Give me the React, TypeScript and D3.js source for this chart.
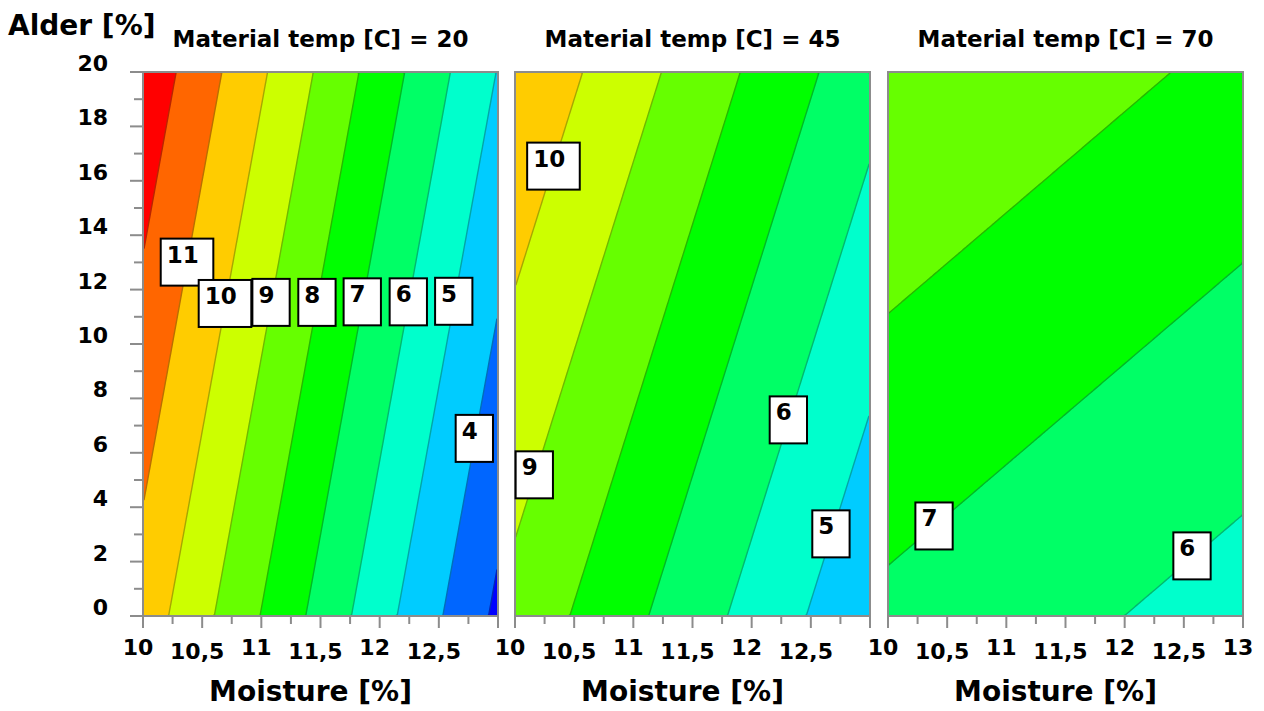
import React from "react";
import * as d3 from "d3";

const width = 1264;
const height = 711;

// one panel per material temperature
const temps = [20, 45, 70];
// planar response surface per panel
const intercepts = [36.45, 23.71, 10.81];
const moistureSlopes = [-2.589, -1.5015, -0.401];
const alderSlopes = [0.1083, 0.1082, 0.108];

const levels = [3, 4, 5, 6, 7, 8, 9, 10, 11, 12];
const bandColors = [
  "#0000ff", "#0066ff", "#00ccff", "#00ffcc", "#00ff66", "#00ff00",
  "#66ff00", "#ccff00", "#ffcc00", "#ff6600", "#ff0000",
];

const moistureTicks = [10, 10.5, 11, 11.5, 12, 12.5, 13];
const moistureMinor = [10.25, 10.75, 11.25, 11.75, 12.25, 12.75];
const alderTicks = [0, 2, 4, 6, 8, 10, 12, 14, 16, 18, 20];
const alderMinor = [1, 3, 5, 7, 9, 11, 13, 15, 17, 19];

// contour labels (box centres)
const labelPanel = [0, 0, 0, 0, 0, 0, 0, 0, 1, 1, 1, 1, 2, 2];
const labelText = ["11", "10", "9", "8", "7", "6", "5", "4", "10", "9", "6", "5", "7", "6"];
const labelMoisture = [10.372, 10.693, 11.082, 11.47, 11.853, 12.242, 12.626, 12.8, 10.325, 10.163, 12.31, 12.67, 10.389, 12.569];
const labelAlder = [13.01, 11.49, 11.53, 11.53, 11.55, 11.55, 11.57, 6.53, 16.54, 5.19, 7.21, 3.02, 3.31, 2.21];

const panelLeft = [143, 515, 888];
const panelW = 355;
const top = 72;
const plotH = 544;
const axisGray = "#8c8c8c";
const font = "'DejaVu Sans', Verdana, sans-serif";

const fmt = (v) => String(v).replace(".", ",");

function Panel({ p }) {
  const x = d3.scaleLinear().domain([10, 13]).range([panelLeft[p], panelLeft[p] + panelW]);
  const y = d3.scaleLinear().domain([0, 20]).range([top + plotH, top]);

  // grid for d3.contours
  const nx = 150;
  const ny = 200;
  const gx = d3.scaleLinear().domain([0, nx]).range([10, 13]);
  const gy = d3.scaleLinear().domain([0, ny]).range([20, 0]);
  const values = new Array(nx * ny);
  for (let j = 0; j < ny; j++) {
    for (let i = 0; i < nx; i++) {
      values[j * nx + i] =
        intercepts[p] + moistureSlopes[p] * gx(i + 0.5) + alderSlopes[p] * gy(j + 0.5);
    }
  }
  const contours = d3.contours().size([nx, ny]).thresholds(levels)(values);
  const proj = d3.geoTransform({
    point: function (px, py) {
      this.stream.point(x(gx(px)), y(gy(py)));
    },
  });
  const path = d3.geoPath(proj);

  const lineColor = (k) =>
    d3.color(d3.interpolateRgb(bandColors[k], bandColors[k + 1])(0.5)).darker(0.9).formatHex();

  const ticks = p === 2 ? moistureTicks : moistureTicks.slice(0, -1);
  const cx = panelLeft[p] + panelW / 2;

  return (
    <g>
      <text x={cx} y={47} textAnchor="middle" fontFamily={font} fontWeight="bold" fontSize={23}>
        Material temp [C] = {temps[p]}
      </text>
      <rect x={x(10)} y={y(20)} width={panelW} height={plotH} fill={bandColors[0]} />
      {contours.map((c, k) => (
        <path key={"f" + k} d={path(c)} fill={bandColors[k + 1]} stroke="none" />
      ))}
      {contours.map((c, k) => (
        <path key={"l" + k} d={path(c)} fill="none" stroke={lineColor(k)} strokeWidth={1.4} />
      ))}
      <rect x={x(10)} y={y(20)} width={panelW} height={plotH} fill="none" stroke={axisGray} strokeWidth={2} />

      {moistureTicks.map((t) => (
        <line key={"mt" + t} x1={x(t)} x2={x(t)} y1={y(0)} y2={y(0) + 12} stroke={axisGray} strokeWidth={2} />
      ))}
      {moistureMinor.map((t) => (
        <line key={"mm" + t} x1={x(t)} x2={x(t)} y1={y(0)} y2={y(0) + 8} stroke={axisGray} strokeWidth={2} />
      ))}
      {ticks.map((t, k) => (
        <text
          key={"ml" + t}
          x={x(t) - 5}
          y={k % 2 === 0 ? 655 : 659}
          textAnchor="middle"
          fontFamily={font}
          fontWeight="bold"
          fontSize={22}
        >
          {fmt(t)}
        </text>
      ))}
      <text x={cx - 10} y={701} textAnchor="middle" fontFamily={font} fontWeight="bold" fontSize={28}>
        Moisture [%]
      </text>

      {p === 0 && (
        <g>
          {alderTicks.map((t) => (
            <line key={"at" + t} x1={x(10) - 13} x2={x(10)} y1={y(t)} y2={y(t)} stroke={axisGray} strokeWidth={2} />
          ))}
          {alderMinor.map((t) => (
            <line key={"am" + t} x1={x(10) - 9} x2={x(10)} y1={y(t)} y2={y(t)} stroke={axisGray} strokeWidth={2} />
          ))}
          {alderTicks.map((t) => (
            <text key={"al" + t} x={108} y={y(t) - 1} textAnchor="end" fontFamily={font} fontWeight="bold" fontSize={22}>
              {t}
            </text>
          ))}
        </g>
      )}

      {labelText.map((s, k) => {
        if (labelPanel[k] !== p) return null;
        const bw = s.length * 15.3 + 22;
        const bh = 47;
        const bx = x(labelMoisture[k]) - bw / 2;
        const by = y(labelAlder[k]) - bh / 2;
        return (
          <g key={"lb" + k}>
            <rect x={bx} y={by} width={bw} height={bh} fill="#fff" stroke="#000" strokeWidth={2} />
            <text x={bx + 6} y={by + 24} fontFamily={font} fontWeight="bold" fontSize={23}>
              {s}
            </text>
          </g>
        );
      })}
    </g>
  );
}

export default function App() {
  return (
    <svg
      width={width}
      height={height}
      style={{ position: "absolute", left: 0, top: 0, background: "#fff" }}
    >
      <text x={8} y={35} fontFamily={font} fontWeight="bold" fontSize={28}>
        Alder [%]
      </text>
      {temps.map((t, p) => (
        <Panel key={t} p={p} />
      ))}
    </svg>
  );
}
